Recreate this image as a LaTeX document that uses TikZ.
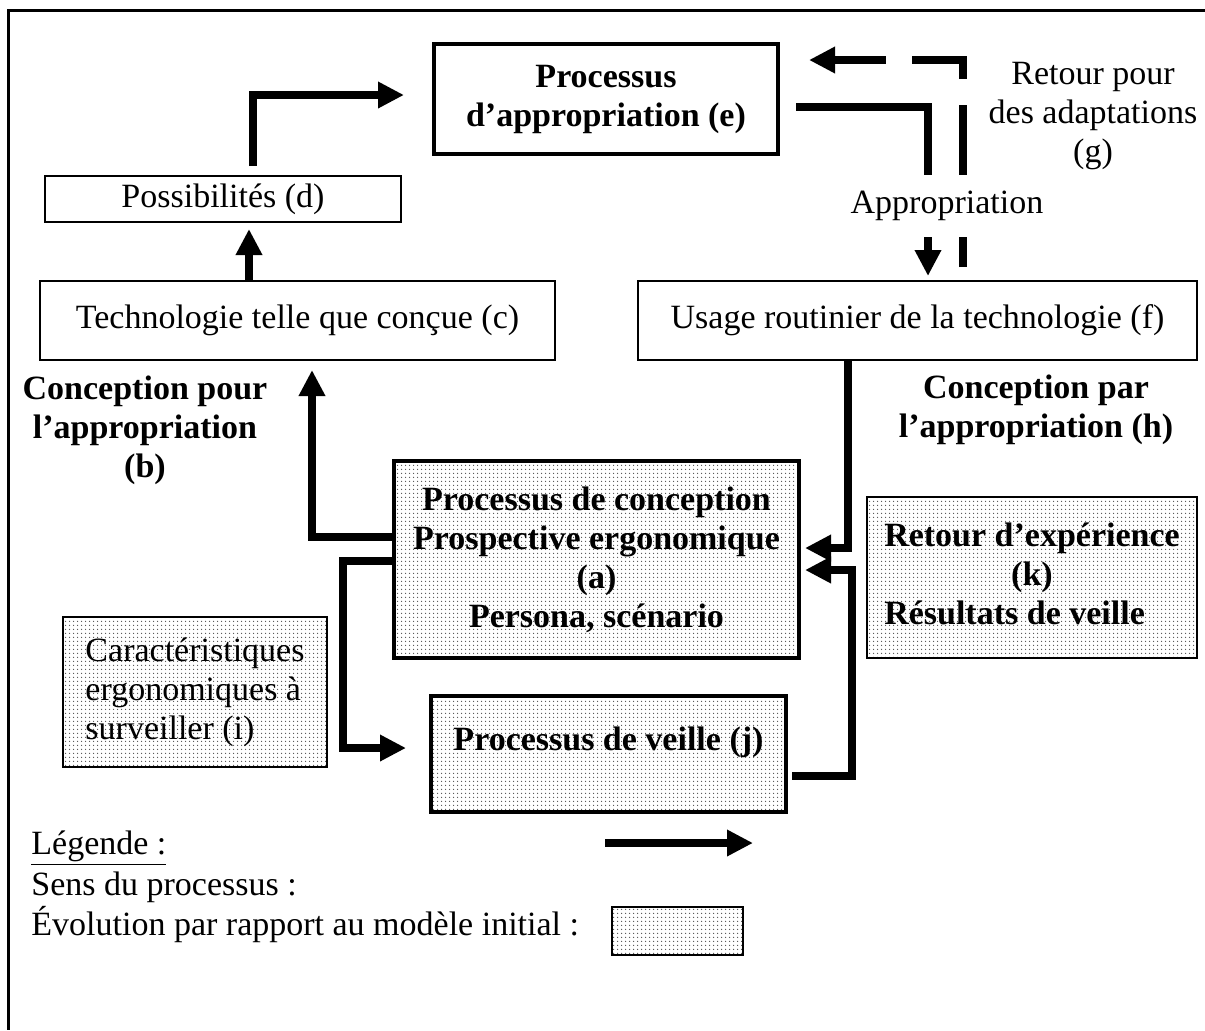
\documentclass[tikz,border=0pt]{standalone}
\usepackage{fontspec}
\setmainfont{Liberation Serif}
\usetikzlibrary{arrows.meta,patterns}

\pgfdeclarepatternformonly{finedots}{\pgfpointorigin}{\pgfqpoint{2pt}{2pt}}{\pgfqpoint{2pt}{2pt}}{%
  \pgfpathcircle{\pgfqpoint{1pt}{1pt}}{0.4pt}\pgfusepath{fill}}

\begin{document}
\begin{tikzpicture}[x=0.5pt, y=-0.5pt,
  txt/.style={font=\fontsize{17}{19.5}\selectfont, align=center},
  boldtxt/.style={font=\fontsize{17}{19.5}\selectfont\bfseries, align=center},
  thinbox/.style={draw, line width=1pt, inner sep=0pt},
  thickbox/.style={draw, line width=2pt, inner sep=0pt},
  dotbox/.style={pattern=finedots, pattern color=black!70},
  flow/.style={line width=3.6pt, -{Triangle[length=13pt,width=12.5pt]}},
  flowline/.style={line width=3.6pt}]
                \useasboundingbox (0,0) rectangle (1205,1030);
                \draw[line width=1.5pt] (1205,10) -- (8,10) -- (8,1030);

                % boites du modele
                \node[thickbox, boldtxt, minimum width=172pt, minimum height=55pt] (e) at (606,99) {Processus\\d’appropriation (e)};
                \node[thinbox, txt, minimum width=178pt, minimum height=23pt] (d) at (223,199) {Possibilités (d)};
                \node[thinbox, txt, minimum width=257.5pt, minimum height=39.5pt] (c) at (297.5,320.5) {Technologie telle que conçue (c)};
                \node[thinbox, txt, minimum width=279.5pt, minimum height=39.5pt] (f) at (917.5,320.5) {Usage routinier de la technologie (f)};
                \node[thickbox, boldtxt, dotbox, minimum width=202.5pt, minimum height=98.5pt] (a) at (596.5,559.5) {Processus de conception\\Prospective ergonomique\\(a)\\Persona, scénario};
                \node[thickbox, boldtxt, dotbox, minimum width=177.5pt, minimum height=58pt] (j) at (608.5,754) {\raisebox{6pt}[\height][\depth]{Processus de veille (j)}};
                \node[thinbox, boldtxt, dotbox, minimum width=165pt, minimum height=80.5pt] (k) at (1032,577.5) {\begin{tabular}{@{}l@{}}Retour d’expérience\\\multicolumn{1}{@{}c@{}}{(k)}\\Résultats de veille\end{tabular}};
                \node[thinbox, txt, dotbox, align=left, minimum width=132pt, minimum height=75pt] (i) at (195,692) {Caractéristiques\\ergonomiques à\\surveiller (i)};

                % etiquettes
                \node[txt] (g) at (1093,116) {Retour pour\\des adaptations\\(g)};
                \node[txt, inner xsep=2pt, inner ysep=8pt] (appr) at (947,206) {Appropriation};
                \node[boldtxt] (b) at (145,430) {Conception pour\\l’appropriation\\(b)};
                \node[boldtxt] (h) at (1036,410) {Conception par\\l’appropriation (h)};

                % fleches
                \coordinate (cd) at (249,0);
                \draw[flow, shorten >=3pt] (c.north -| cd) -- (d.south -| cd);
                \coordinate (de) at (253,95);
                \draw[flow, shorten <=4.5pt, shorten >=14pt] (d.north -| de) |- (e.west |- de);
                \coordinate (ef) at (928,107);
                \draw[flowline, shorten <=8pt] (e.east |- ef) -| (appr.north -| ef);
                \draw[flow, shorten >=2pt] (appr.south -| ef) -- (f.north -| ef);
                \coordinate (fe) at (963,60);
                \draw[flowline, shorten <=6.5pt] (f.north -| fe) -- (appr.south -| fe);
                \draw[flow, dash pattern=on 35pt off 13pt, shorten >=14.5pt] (appr.north -| fe) |- (e.east |- fe);
                \coordinate (ac) at (312,537);
                \draw[flow, shorten >=4.5pt] (a.west |- ac) -| (c.south -| ac);
                \coordinate (aj) at (343,561);
                \coordinate (ajj) at (343,748);
                \draw[flow, shorten >=11.5pt] (a.west |- aj) -| (ajj) -- (j.west |- ajj);
                \coordinate (fa) at (848,548);
                \draw[flow, shorten >=2pt] (f.south -| fa) |- (a.east |- fa);
                \coordinate (ja) at (852,570);
                \coordinate (jj) at (852,776);
                \draw[flow, shorten <=2pt, shorten >=2pt] (j.east |- jj) -- (jj) |- (a.east |- ja);

                % legende
                \node[txt, anchor=west, inner sep=0pt] (leg) at (31,848) {\underline{Légende :}};
                \node[txt, anchor=west, inner sep=0pt] (sens) at (31,887) {Sens du processus :};
                \node[txt, anchor=west, inner sep=0pt] (evol) at (31,925) {Évolution par rapport au modèle initial :};
                \node[thinbox, dotbox, minimum width=65.5pt, minimum height=24pt] (legbox) at (677.5,931) {};
                \coordinate (legA) at (605,843);
                \coordinate (legB) at (753,843);
                \draw[flow] (legA) -- (legB);
            \end{tikzpicture}
\end{document}
